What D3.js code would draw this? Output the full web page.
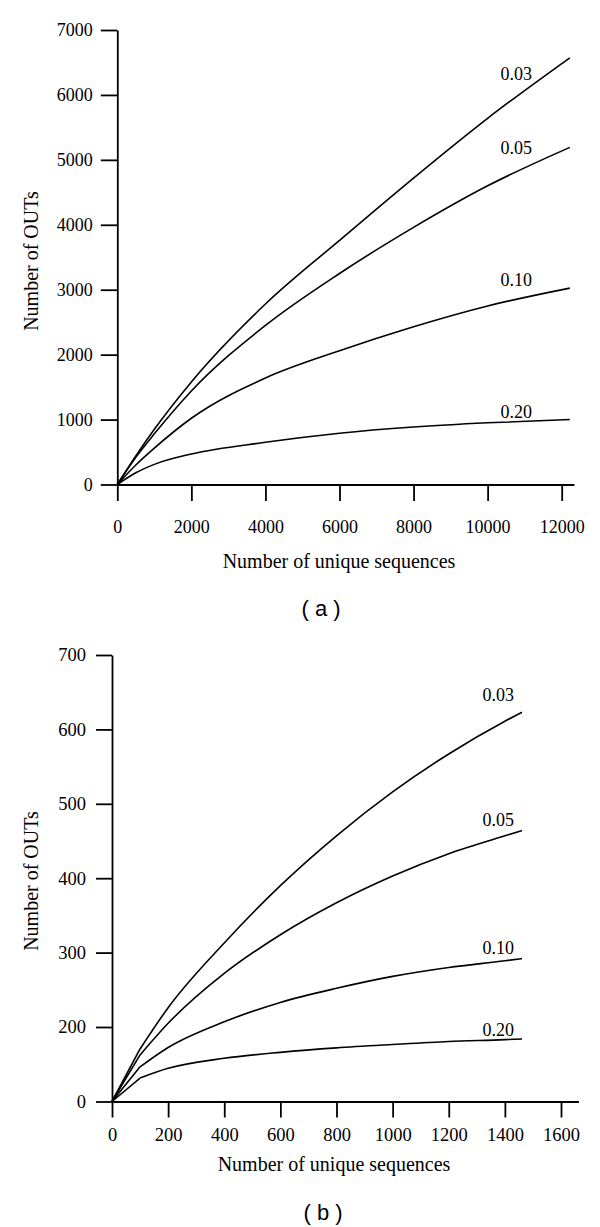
<!DOCTYPE html>
<html><head><meta charset="utf-8">
<script src="https://cdn.jsdelivr.net/npm/d3@7/dist/d3.min.js"></script>
<style>
body{margin:0;background:#fff;}
svg{display:block;}
</style></head>
<body>
<svg id="chart" width="600" height="1227"></svg>
<script>
// ---------- Data: panel (a) ----------
const cutoffs = ["0.03", "0.05", "0.10", "0.20"];
const seqA = [0, 500, 1000, 2000, 4000, 6000, 8000, 10000, 12220];
const otuA_003 = [0, 440, 850, 1580, 2780, 3760, 4720, 5640, 6572];
const otuA_005 = [0, 420, 780, 1440, 2450, 3250, 3960, 4600, 5192];
const otuA_010 = [0, 300, 560, 1020, 1640, 2060, 2430, 2750, 3025];
const otuA_020 = [0, 180, 310, 470, 650, 790, 885, 950, 1000];
const xTicksA = [0, 2000, 4000, 6000, 8000, 10000, 12000];
const yTicksA = [0, 1000, 2000, 3000, 4000, 5000, 6000, 7000];
const labelXA = 10770;
const labelYA = [6330, 5190, 3150, 1115];

// ---------- Data: panel (b) ----------
const seqB = [0, 100, 200, 400, 600, 800, 1000, 1200, 1400, 1461];
const otuB_003 = [0, 141, 226, 313, 390, 457, 516, 567, 611, 623];
const otuB_005 = [0, 125, 205, 272, 324, 367, 403, 433, 457, 464];
const otuB_010 = [0, 93, 145, 207, 233, 252, 268, 280, 289, 292];
const otuB_020 = [0, 63, 89, 116, 132, 144, 153, 161, 166, 168];
const xTicksB = [0, 200, 400, 600, 800, 1000, 1200, 1400, 1600];
const yTicksB = [0, 200, 300, 400, 500, 600, 700];
const labelXB = 1376;
const labelYB = [646, 478, 306, 194];

const xTitle = "Number of unique sequences";
const yTitle = "Number of OUTs";

const svg = d3.select("#chart");
svg.append("rect").attr("width",600).attr("height",1227).attr("fill","#fff");

const serif = "'Liberation Serif', 'Times New Roman', serif";

function panel(cfg){
  const g = svg.append("g");
  const x = cfg.x, y = cfg.y;
  const xa = g.append("g").attr("transform",`translate(0,${y(0)})`)
    .call(d3.axisBottom(x).tickValues(cfg.xTicks).tickSize(cfg.tick).tickSizeOuter(0).tickPadding(cfg.xPad).tickFormat(d3.format("d")));
  const ya = g.append("g").attr("transform",`translate(${x(0)},0)`)
    .call(d3.axisLeft(y).tickValues(cfg.yTicks).tickSize(cfg.tick).tickSizeOuter(0).tickPadding(cfg.yPad).tickFormat(d3.format("d")));
  [xa, ya].forEach(a=>{
    a.selectAll("path.domain").attr("stroke","#000").attr("stroke-width",1.8);
    a.selectAll(".tick line").attr("stroke","#000").attr("stroke-width",1.8);
    a.selectAll(".tick text").attr("fill","#000").style("font-family",serif).style("font-size",cfg.tickFont+"px");
  });
  const smooth = d3.line().x(d=>x(d[0])).y(d=>y(d[1])).curve(d3.curveMonotoneX);
  const straight = d3.line().x(d=>x(d[0])).y(d=>y(d[1]));
  cfg.series.forEach((s,k)=>{
    const pts = s.map((v,i)=>[cfg.seq[i], v]);
    if (cfg.kink) {
      g.append("path").attr("d",straight(pts.slice(0,2))).attr("fill","none").attr("stroke","#000").attr("stroke-width",1.6);
      g.append("path").attr("d",smooth(pts.slice(1))).attr("fill","none").attr("stroke","#000").attr("stroke-width",1.6);
    } else {
      g.append("path").attr("d",smooth(pts)).attr("fill","none").attr("stroke","#000").attr("stroke-width",1.6);
    }
    g.append("text").attr("x",x(cfg.labelX)).attr("y",y(cfg.labelY[k])).attr("dy","0.35em")
      .attr("text-anchor","middle").style("font-family",serif).style("font-size","18px").text(cutoffs[k]);
  });
  g.append("text").attr("x",cfg.xTitlePos[0]).attr("y",cfg.xTitlePos[1]).attr("dy","0.35em").attr("text-anchor","middle")
    .style("font-family",serif).style("font-size","20px").text(xTitle);
  g.append("text").attr("transform",`translate(${cfg.yTitlePos[0]},${cfg.yTitlePos[1]}) rotate(-90)`).attr("dy","0.35em").attr("text-anchor","middle")
    .style("font-family",serif).style("font-size","20px").text(yTitle);
  g.append("text").attr("x",cfg.capPos[0]).attr("y",cfg.capPos[1]).attr("dy","0.35em").attr("text-anchor","middle")
    .style("font-family","'Liberation Sans', Arial, sans-serif").style("font-size","22px").text(cfg.caption);
}

panel({
  x: d3.scaleLinear().domain([0, 12330]).range([117.3, 573.9]),
  y: d3.scaleLinear().domain([0, 7000]).range([484.5, 30]),
  xTicks: xTicksA, yTicks: yTicksA, tick: 16.5, xPad: 19, yPad: 8, tickFont: 18,
  seq: seqA, series: [otuA_003, otuA_005, otuA_010, otuA_020], kink: false,
  labelX: labelXA, labelY: labelYA,
  xTitlePos: [339, 561], yTitlePos: [31, 261], capPos: [321, 608], caption: "( a )"
});

panel({
  x: d3.scaleLinear().domain([0, 1662]).range([112, 578.4]),
  y: d3.scaleLinear().domain([0, 200, 700]).range([1101.5, 1027, 655]),
  xTicks: xTicksB, yTicks: yTicksB, tick: 16, xPad: 10, yPad: 10, tickFont: 18.5,
  seq: seqB, series: [otuB_003, otuB_005, otuB_010, otuB_020], kink: true,
  labelX: labelXB, labelY: labelYB,
  xTitlePos: [334, 1164], yTitlePos: [31, 881], capPos: [323, 1212], caption: "( b )"
});
</script>
</body></html>
